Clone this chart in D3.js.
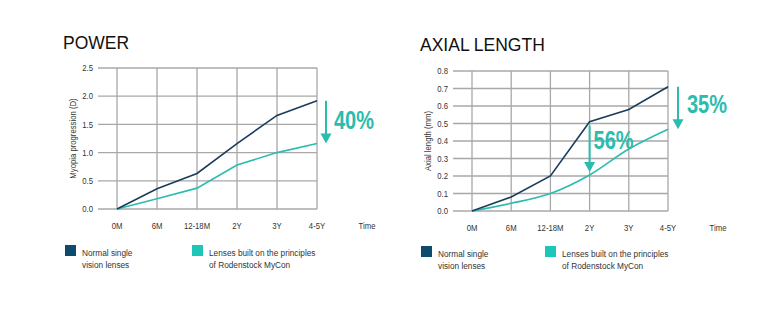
<!DOCTYPE html>
<html><head><meta charset="utf-8">
<script src="https://cdn.jsdelivr.net/npm/d3@7/dist/d3.min.js"></script>
<style>body{margin:0;background:#fff}svg{display:block}</style>
</head><body>
<svg id="c" width="768" height="322"></svg>
<script>
const categories = ["0M","6M","12-18M","2Y","3Y","4-5Y"];
const powerNormal = [0, 0.36, 0.63, 1.16, 1.66, 1.92];
const powerMyCon  = [0, 0.18, 0.37, 0.78, 1.00, 1.16];
const powerTicks  = [0, 0.5, 1.0, 1.5, 2.0, 2.5];
const axialNormal = [0, 0.08, 0.20, 0.51, 0.58, 0.71];
const axialMyCon  = [0, 0.044, 0.10, 0.206, 0.354, 0.467];
const axialTicks  = [0, 0.1, 0.2, 0.3, 0.4, 0.5, 0.6, 0.7, 0.8];
const legendLabels = [["Normal single","vision lenses"],["Lenses built on the principles","of Rodenstock MyCon"]];

const NAVY = "#1b3d5c", TEAL = "#2bbcae", GRID = "#a8a8a8", TXT = "#333";
const SQ = ["#0e4a6e", "#1cc6b9"];
const svg = d3.select("#c");
const FONT = "'Liberation Sans',Arial,sans-serif";

// condensed text helper
function txt(g, x, y, s, opt){
  opt = opt || {};
  const sx = opt.sx || 0.86;
  const t = g.append("g").attr("transform", `translate(${x},${y})` + (opt.rot ? ` rotate(${opt.rot})` : "") + ` scale(${sx},1)`)
    .append("text").attr("dy", opt.dy || "0.35em").attr("text-anchor", opt.anchor || "start")
    .attr("font-family", FONT).attr("font-size", opt.size || 9).attr("fill", opt.fill || TXT)
    .attr("font-weight", opt.weight || "normal").text(s);
  return t;
}

function chart(o){
  const g = svg.append("g");
  const x = d3.scalePoint().domain(categories).range([o.x0, o.x1]);
  const y = d3.scaleLinear().domain([0, o.max]).range([o.yb, o.yt]);
  g.append("text").attr("x", o.tx).attr("y", o.ty).text(o.title)
    .attr("font-family", FONT).attr("font-size",17.5).attr("fill","#111");
  g.selectAll(".h").data(o.ticks).join("line")
    .attr("x1", o.x0 - 19).attr("x2", o.x1).attr("y1", d=>y(d)).attr("y2", d=>y(d))
    .attr("stroke", GRID).attr("stroke-width", 1.3);
  g.selectAll(".v").data(categories).join("line")
    .attr("x1", d=>x(d)).attr("x2", d=>x(d)).attr("y1", o.yt).attr("y2", o.yb)
    .attr("stroke", GRID).attr("stroke-width", 1.3);
  o.ticks.forEach(d=>txt(g, o.x0 - 24, y(d), d.toFixed(1), {anchor:"end"}));
  categories.forEach(d=>txt(g, x(d), o.yb + 17, d, {anchor:"middle"}));
  txt(g, o.x1 + 50, o.yb + 17, "Time", {anchor:"middle"});
  g.append("text").attr("transform",`translate(${o.x0-44},${(o.yt+o.yb)/2}) rotate(-90) scale(0.86,1)`)
    .attr("dy","0.35em").attr("text-anchor","middle")
    .attr("font-family", FONT).attr("font-size",9).attr("fill",TXT).text(o.ylabel);
  const line = d3.line().x((d,i)=>x(categories[i])).y(d=>y(d));
  g.append("path").attr("d", line.curve(o.tealCurve)(o.teal)).attr("fill","none").attr("stroke",TEAL).attr("stroke-width",1.6);
  g.append("path").attr("d", d3.line().x((d,i)=>x(categories[i])).y(d=>y(d))(o.navy)).attr("fill","none").attr("stroke",NAVY).attr("stroke-width",1.6);
  o.arrows.forEach(a=>{
    const ax = x(categories[a.i]) + a.dx;
    const y1 = y(o.navy[a.i]) + a.d1, y2 = y(o.teal[a.i]) + a.d2;
    g.append("line").attr("x1",ax).attr("x2",ax).attr("y1",y1).attr("y2",y2-9).attr("stroke",TEAL).attr("stroke-width",2);
    g.append("path").attr("d",`M${ax-5.5},${y2-10}L${ax+5.5},${y2-10}L${ax},${y2}Z`).attr("fill",TEAL);
    txt(g, ax + a.tx, a.ty, a.label, {sx:0.8, size:25, weight:"bold", fill:TEAL});
  });
  legendLabels.forEach((lab,k)=>{
    const lx = o.lx[k];
    g.append("rect").attr("x",lx).attr("y",o.ly).attr("width",11).attr("height",11).attr("fill",SQ[k]);
    lab.forEach((t,j)=>txt(g, lx+17, o.ly+8+j*12, t, {size:9.5, dy:0, sx:0.87}));
  });
}

chart({title:"POWER", tx:63, ty:49, x0:117, x1:317, yt:68, yb:209, max:2.5, ticks:powerTicks,
  navy:powerNormal, teal:powerMyCon, tealCurve:d3.curveLinear, ylabel:"Myopia progression (D)",
  arrows:[{i:5, dx:9, d1:0, d2:0, tx:8, ty:120, label:"40%"}],
  lx:[65,192], ly:245});
chart({title:"AXIAL LENGTH", tx:420, ty:51, x0:472, x1:668, yt:71, yb:211, max:0.8, ticks:axialTicks,
  navy:axialNormal, teal:axialMyCon, tealCurve:d3.curveMonotoneX, ylabel:"Axial length (mm)",
  arrows:[{i:5, dx:10, d1:0, d2:0, tx:9, ty:104, label:"35%"},{i:3, dx:0, d1:4, d2:-3, tx:4, ty:140, label:"56%"}],
  lx:[421,545], ly:246});
</script>
</body></html>
